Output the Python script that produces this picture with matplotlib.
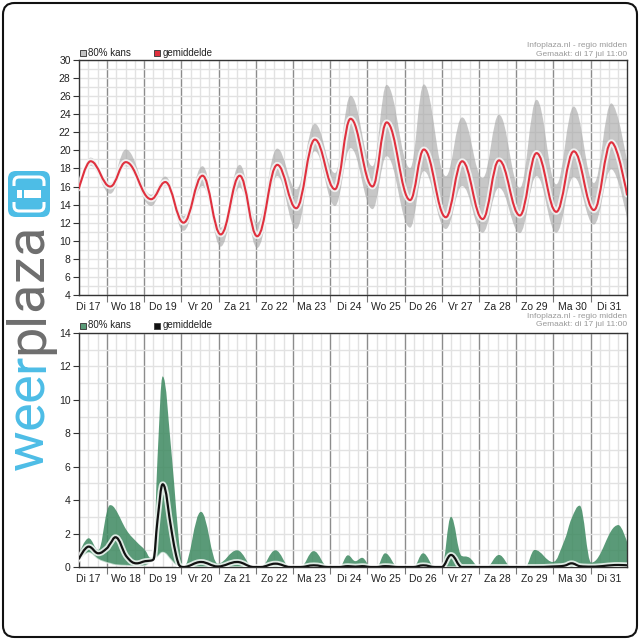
import numpy as np
import matplotlib
matplotlib.use('Agg')
import matplotlib.pyplot as plt
from matplotlib.path import Path
from matplotlib.patches import PathPatch, FancyBboxPatch, Rectangle
from matplotlib.font_manager import FontProperties, findfont, get_font

# days (t = days since Di 17 00:00)
day_labels = ['Di 17', 'Wo 18', 'Do 19', 'Vr 20', 'Za 21', 'Zo 22', 'Ma 23', 'Di 24',
              'Wo 25', 'Do 26', 'Vr 27', 'Za 28', 'Zo 29', 'Ma 30', 'Di 31']

# temperature
temp_t = [0.25, 0.56, 1.09, 1.51, 2.19, 2.57, 3.06, 3.57, 4.06, 4.57, 5.04, 5.58, 6.09, 6.59,
          7.13, 7.55, 8.14, 8.52, 9.15, 9.52, 10.11, 10.55, 11.10, 11.54, 12.10, 12.55,
          13.08, 13.55, 14.09, 14.56, 14.98]
temp_lo = [15.4, 18.3, 15.2, 18.25, 13.85, 16.05, 11.1, 16.05, 9.35, 15.9, 9.2, 17.15, 11.3, 19.9,
           13.85, 20.25, 13.5, 19.35, 11.45, 17.7, 11.3, 16.05, 10.9, 15.85, 10.85, 17.15,
           10.9, 17.05, 11.8, 17.9, 12.5]
temp_mid = [15.8, 18.8, 16.0, 18.7, 14.6, 16.5, 12.0, 17.2, 10.7, 17.2, 10.5, 18.4, 13.6, 21.2,
            15.7, 23.5, 16.0, 23.1, 14.5, 20.1, 12.6, 18.8, 12.4, 18.9, 12.8, 19.7,
            13.2, 19.9, 13.4, 20.9, 15.1]
temp_hi = [16.2, 19.2, 16.4, 20.1, 15.1, 17.1, 12.75, 18.25, 11.45, 18.4, 12.0, 20.2, 15.7, 22.95,
           17.5, 26.05, 18.25, 27.25, 18.05, 27.3, 17.15, 23.65, 16.95, 23.95, 15.85, 25.6,
           16.25, 24.85, 16.4, 25.2, 18.8]

# precipitation (mm)
rain_t = [0.25, 0.51, 0.77, 1.0, 1.09, 1.23, 1.53, 1.8, 2.03, 2.17, 2.25, 2.36, 2.5, 2.75, 2.86,
          2.97, 3.06, 3.53, 3.98, 4.5, 4.95, 5.13, 5.53, 5.93, 6.2, 6.56, 6.95, 7.25, 7.48,
          7.68, 7.86, 8.1, 8.25, 8.48, 8.83, 9.24, 9.5, 9.82, 10.0, 10.25, 10.54, 10.7, 11.02,
          11.2, 11.54, 11.88, 12.24, 12.5, 12.99, 13.3, 13.49, 13.71, 14.02, 14.75, 14.98]
rain_lo = [0.3, 0.85, 0.45, 0.25, 0.2, 0.12, 0.08, 0.05, 0.08, 0.25, 0.35, 0.6, 0.86, 0.35, 0.1,
           0, 0, 0, 0, 0, 0, 0, 0, 0, 0, 0, 0, 0, 0,
           0, 0, 0, 0, 0, 0, 0, 0, 0, 0, 0, 0, 0, 0,
           0, 0, 0, 0, 0, 0, 0, 0, 0.02, 0, 0, 0]
rain_mid = [0.5, 1.22, 0.82, 1.12, 1.4, 1.78, 0.62, 0.22, 0.35, 0.38, 0.45, 2.8, 4.95, 2.0, 0.7,
            0.05, 0, 0.3, 0.03, 0.3, 0, 0, 0.2, 0, 0, 0.1, 0, 0, 0.05,
            0.02, 0.05, 0, 0, 0.05, 0, 0, 0.1, 0, 0, 0.72, 0, 0, 0,
            0, 0, 0, 0, 0, 0.03, 0.08, 0.22, 0.05, 0.02, 0.12, 0.1]
rain_hi = [0.8, 1.72, 1.02, 3.3, 3.7, 3.45, 2.2, 1.5, 1.0, 0.55, 0.8, 6.5, 11.4, 6.5, 3.5,
           0.9, 0, 3.3, 0.2, 1.0, 0, 0, 1.0, 0, 0, 0.95, 0, 0, 0.7,
           0.35, 0.55, 0, 0, 0.82, 0, 0, 0.82, 0, 0, 3.0, 0.66, 0.6, 0,
           0, 0.72, 0, 0, 1.02, 0.3, 1.6, 2.9, 3.67, 0.26, 2.51, 1.51]


def spline(xs, ys):
    # highcharts-like spline: cubic bezier through every point
    n = len(xs)
    left = [(xs[i], ys[i]) for i in range(n)]
    right = [(xs[i], ys[i]) for i in range(n)]
    for i in range(1, n - 1):
        lx, ly = xs[i - 1], ys[i - 1]
        px, py = xs[i], ys[i]
        nx, ny = xs[i + 1], ys[i + 1]
        lcx, lcy = (1.5 * px + lx) / 2.5, (1.5 * py + ly) / 2.5
        rcx, rcy = (1.5 * px + nx) / 2.5, (1.5 * py + ny) / 2.5
        if rcx != lcx:
            corr = (rcy - lcy) * (rcx - px) / (rcx - lcx) + py - rcy
            lcy += corr
            rcy += corr
        if lcy > ly and lcy > py:
            lcy = max(ly, py); rcy = 2 * py - lcy
        elif lcy < ly and lcy < py:
            lcy = min(ly, py); rcy = 2 * py - lcy
        if rcy > ny and rcy > py:
            rcy = max(ny, py); lcy = 2 * py - rcy
        elif rcy < ny and rcy < py:
            rcy = min(ny, py); lcy = 2 * py - rcy
        left[i] = (lcx, lcy)
        right[i] = (rcx, rcy)
    verts = [(xs[0], ys[0])]
    codes = [Path.MOVETO]
    for i in range(1, n):
        verts += [right[i - 1], left[i], (xs[i], ys[i])]
        codes += [Path.CURVE4] * 3
    return verts, codes


def band(ax, xs, lo, hi, color, alpha):
    v1, c1 = spline(xs, hi)
    v2, _ = spline(xs, lo)
    v2 = v2[::-1]
    verts = v1 + v2 + [v1[0]]
    codes = c1 + [Path.LINETO] + [Path.CURVE4] * (len(v2) - 1) + [Path.CLOSEPOLY]
    ax.add_patch(PathPatch(Path(verts, codes), facecolor=color, edgecolor='none',
                           alpha=alpha, zorder=2))


def curve(ax, xs, ys, color, lw, z, alpha=1.0):
    v, c = spline(xs, ys)
    ax.add_patch(PathPatch(Path(v, c), fill=False, edgecolor=color, lw=lw, zorder=z,
                           alpha=alpha, capstyle='round', joinstyle='round'))


def setup(ax, ylo, yhi):
    ax.set_xlim(0.25, 14.98)
    ax.set_ylim(ylo, yhi)
    ax.set_yticks(np.arange(ylo, yhi + 1, 2))
    ax.set_yticks(np.arange(ylo, yhi + 1, 1), minor=True)
    ax.tick_params(axis='y', which='major', length=4, width=0.8, color='#333', pad=2,
                   labelsize=7.5, labelcolor='#222')
    ax.tick_params(axis='y', which='minor', length=0)
    ax.grid(axis='y', which='both', color='#e2e2e2', lw=1)
    ax.set_xticks(range(1, 15))
    ax.set_xticklabels([])
    ax.tick_params(axis='x', which='major', length=5, width=0.8, color='#777')
    ax.grid(axis='x', which='major', color='#8c8c8c', lw=1)
    ax.set_xticks(np.arange(15) + 0.5, day_labels, minor=True)
    ax.tick_params(axis='x', which='minor', length=0, pad=5, labelsize=7.5, labelcolor='#222')
    for d in range(15):
        for f in (0.25, 0.5, 0.75):
            ax.axvline(d + f, color='#e2e2e2', lw=1, zorder=0.3)
    ax.set_axisbelow(True)
    for s in ax.spines.values():
        s.set_color('#333')
        s.set_linewidth(1)


plt.rcParams['font.family'] = ['Liberation Sans', 'DejaVu Sans']

W = 640.0
fig = plt.figure(figsize=(6.4, 6.4), dpi=100)


def fx(px):
    return px / W


def fy(py):
    return 1 - py / W


ax1 = fig.add_axes([fx(79), fy(295), fx(627) - fx(79), fy(60) - fy(295)])
ax2 = fig.add_axes([fx(79), fy(567), fx(627) - fx(79), fy(333) - fy(567)])

setup(ax1, 4, 30)
band(ax1, temp_t, temp_lo, temp_hi, '#a6a6a6', 0.62)
curve(ax1, temp_t, temp_mid, 'white', 4.2, 3, 0.75)
curve(ax1, temp_t, temp_mid, '#e0303e', 1.5, 4)

setup(ax2, 0, 14)
band(ax2, rain_t, rain_lo, rain_hi, '#3d8960', 0.85)
curve(ax2, rain_t, rain_lo, 'white', 1.2, 3, 0.6)
curve(ax2, rain_t, rain_mid, 'white', 4.2, 3, 0.8)
curve(ax2, rain_t, rain_mid, '#111111', 1.6, 4)

# legends and captions
legend_rows = [(53, '#c4c4c4', '#e0303e'), (325.5, '#5a9b78', '#111111')]
for yl, c_band, c_line in legend_rows:
    fig.add_artist(Rectangle((fx(79.5), fy(yl + 3)), 6 / W, 6 / W, transform=fig.transFigure,
                             facecolor=c_band, edgecolor='#444', lw=0.7))
    fig.text(fx(88), fy(yl), '80% kans', fontsize=7, color='#222', va='center')
    fig.add_artist(Rectangle((fx(154), fy(yl + 3)), 6 / W, 6 / W, transform=fig.transFigure,
                             facecolor=c_line, edgecolor='#444', lw=0.7))
    fig.text(fx(162.5), fy(yl), 'gemiddelde', fontsize=7, color='#222', va='center')

for y1 in (45.5, 316):
    fig.text(fx(627), fy(y1), 'Infoplaza.nl - regio midden', fontsize=6, color='#999',
             ha='right', va='center')
    fig.text(fx(627), fy(y1 + 8.5), 'Gemaakt: di 17 jul 11:00', fontsize=6, color='#999',
             ha='right', va='center')

# outer rounded frame
fig.add_artist(FancyBboxPatch((fx(3), fy(637)), 634 / W, 634 / W,
                              boxstyle='round,pad=0,rounding_size=0.018',
                              transform=fig.transFigure, fill=False, ec='#111', lw=1.5))

# vertical logo, letter by letter (glyph advances + a little tracking)
logo_size = 39
logo_prop = FontProperties(family=['Roboto', 'DejaVu Sans'], size=logo_size)
ftfont = get_font(findfont(logo_prop))
ftfont.set_size(logo_size, 100)
word = 'weerplaza'
colors = ['#4dbde6'] * 4 + ['#6e6e6e'] * 5
adv = [ftfont.load_char(ord(ch)).linearHoriAdvance / 65536.0 for ch in word]
track = (245.0 - sum(adv)) / (len(word) - 1)
ypos = 470.0
for ch, col, a in zip(word, colors, adv):
    fig.text(fx(43), fy(ypos), ch, fontproperties=logo_prop, color=col,
             rotation=90, rotation_mode='anchor', ha='left', va='baseline')
    ypos -= a + track

# logo icon
blue = '#4dbde6'
fig.add_artist(FancyBboxPatch((fx(8), fy(217)), 42 / W, 46 / W,
                              boxstyle='round,pad=0,rounding_size=0.012',
                              transform=fig.transFigure, fc=blue, ec='none'))
fig.add_artist(FancyBboxPatch((fx(14), fy(211)), 30 / W, 34 / W,
                              boxstyle='round,pad=0,rounding_size=0.008',
                              transform=fig.transFigure, fill=False, ec='white', lw=2.2))
fig.add_artist(Rectangle((fx(11), fy(202)), 36 / W, 16 / W, transform=fig.transFigure,
                         fc=blue, ec='none'))
fig.add_artist(Rectangle((fx(24), fy(197.5)), 17 / W, 7 / W, transform=fig.transFigure,
                         fc='white', ec='none'))
fig.add_artist(Rectangle((fx(17), fy(197.5)), 5 / W, 7 / W, transform=fig.transFigure,
                         fc='white', ec='none'))

fig.savefig('out.png', dpi=100, facecolor='white')
